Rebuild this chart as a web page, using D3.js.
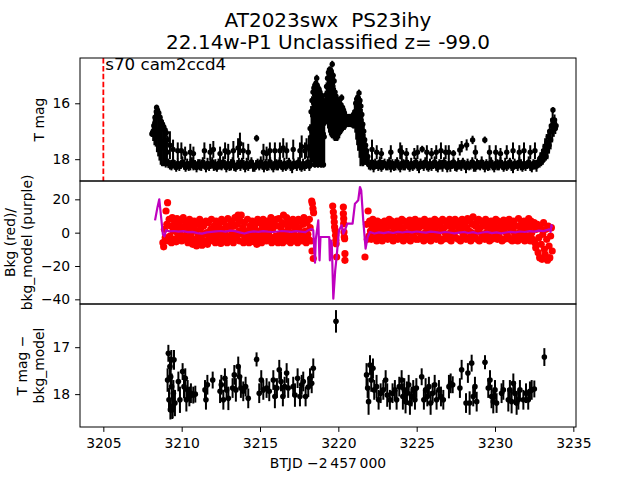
<!DOCTYPE html>
<html><head><meta charset="utf-8">
<script src="https://cdn.jsdelivr.net/npm/d3@7"></script>
<style>body{margin:0;background:#fff}svg{display:block}text{font-family:"DejaVu Sans",sans-serif}</style>
</head><body><svg id="c" width="640" height="480"></svg>
<script>
// ---------------- DATA ----------------
const titleLines = ["AT2023swx  PS23ihy", "22.14w-P1 Unclassified z= -99.0"];
const annot = "s70 cam2ccd4";
const markerT = 3205;
const xTicks = [3205, 3210, 3215, 3220, 3225, 3230, 3235];
const topTicks = [16, 18];
const midTicks = [20, 0, -20, -40];
const botTicks = [17, 18];
const xDomain = [3203.51, 3235.17];
const topDomain = [18.78, 14.38];
const midDomain = [-42.8, 31];
const botDomain = [18.70, 16.08];

// top panel: [BTJD, T mag, err]
const topBlob = [[3208.10,17.10,.10],[3208.14,17.05,.15],[3208.18,17.00,.35],[3208.22,16.80,.30],[3208.26,17.00,.50],[3208.30,16.50,.20],[3208.34,16.95,.60],[3208.38,16.30,.15],[3208.40,16.15,.10],[3208.42,17.00,.75],[3208.46,16.25,.12],[3208.50,17.10,.80],[3208.54,16.35,.15],[3208.58,17.20,.85],[3208.62,16.50,.15],[3208.66,17.35,.85],[3208.70,16.65,.15],[3208.74,17.45,.80],[3208.78,16.75,.15],[3208.82,17.50,.75],[3208.86,16.85,.15],[3208.90,17.60,.65],[3208.94,16.95,.15],[3208.98,17.70,.60],[3209.02,17.05,.15],[3209.06,17.75,.50],[3209.10,17.30,.15]];
const topBandL = [[3209.15,18.15,.17],[3209.25,18.2,.17],[3209.35,18.25,.15],[3209.45,18.1,.2],[3209.55,18.2,.17],[3209.65,18.3,.15],[3209.75,18.15,.17],[3209.85,18.25,.17],[3209.95,18.2,.15],[3210.05,18.1,.2],
[3210.15,18.2,.17],[3210.25,18.3,.15],[3210.35,18.15,.17],[3210.45,18.25,.17],[3210.55,18.2,.2],[3210.65,18.1,.17],[3210.75,18.25,.15],[3210.85,18.2,.17],[3210.95,18.3,.17],[3211.05,18.15,.15],
[3211.15,18.2,.2],[3211.25,18.25,.17],[3211.35,18.1,.17],[3211.45,18.2,.15],[3211.55,18.3,.17],[3211.65,18.15,.2],[3211.75,18.25,.17],[3211.85,18.2,.15],[3211.95,18.1,.17],[3212.05,18.25,.17],
[3212.15,18.2,.2],[3212.25,18.3,.15],[3212.35,18.15,.17],[3212.45,18.2,.17],[3212.55,18.25,.15],[3212.65,18.1,.2],[3212.75,18.2,.17],[3212.85,18.3,.17],[3212.95,18.15,.15],[3213.05,18.25,.17],
[3213.15,18.2,.2],[3213.25,18.1,.17],[3213.35,18.25,.17],[3213.45,18.3,.15],[3213.55,18.2,.17],[3213.65,18.15,.2],[3213.75,18.25,.17],[3213.85,18.1,.15],[3213.95,18.2,.17],[3214.05,18.3,.17],
[3214.15,18.15,.2],[3214.25,18.25,.17],[3214.35,18.2,.15],[3214.45,18.1,.17],[3214.55,18.25,.2],[3214.65,18.3,.15],[3214.75,18.2,.17],[3214.85,18.15,.17],[3214.95,18.25,.15],[3215.05,18.1,.2],
[3215.15,18.2,.17],[3215.25,18.3,.17],[3215.35,18.15,.15],[3215.45,18.25,.17],[3215.55,18.2,.2],[3215.65,18.1,.17],[3215.75,18.25,.15],[3215.85,18.3,.17],[3215.95,18.15,.17],[3216.05,18.2,.2],
[3216.15,18.25,.15],[3216.25,18.1,.17],[3216.35,18.2,.17],[3216.45,18.3,.15],[3216.55,18.15,.2],[3216.65,18.25,.17],[3216.75,18.2,.17],[3216.85,18.1,.15],[3216.95,18.25,.17],[3217.05,18.3,.2],
[3217.15,18.15,.17],[3217.25,18.2,.15],[3217.35,18.25,.17],[3217.45,18.1,.17],[3217.55,18.2,.2],[3217.65,18.3,.15],[3217.75,18.15,.17],[3217.85,18.25,.17],[3217.95,18.2,.15],[3218.05,18.1,.2],
[3218.15,18.25,.17]];
const topSpikesL = [[3209.25,17.5,.5],[3209.45,17.65,.35],[3209.75,17.7,.3],[3209.98,17.7,.3],[3210.22,17.8,.25],[3210.55,17.75,.3],[3210.75,17.8,.25],[3211.45,17.7,.3],[3211.82,17.75,.3],[3212.02,17.65,.3],[3212.45,17.8,.25],[3212.77,17.7,.3],[3212.97,17.75,.3],[3213.30,17.7,.35],[3213.60,17.6,.35],[3213.72,17.45,.4],[3213.93,17.7,.3],[3214.25,17.75,.3],[3214.78,17.25,.12],[3215.22,17.75,.3],[3215.42,17.8,.25],[3215.63,17.7,.3],[3215.95,17.7,.3],[3216.27,17.7,.3],[3216.48,17.6,.35],[3216.70,17.7,.3],[3217.12,17.65,.35],[3217.55,17.7,.3],[3217.66,17.55,.4],[3217.87,17.7,.3],[3217.97,17.6,.35],[3218.12,17.55,.4]];
const topActive = [[3218.20,16.90,.15],[3218.21,17.60,.60],[3218.23,18.20,.10],[3218.26,16.30,.20],[3218.29,17.20,.95],[3218.32,15.90,.15],[3218.35,17.00,1.10],[3218.38,15.60,.15],[3218.41,16.90,1.25],[3218.44,15.45,.15],[3218.47,16.80,1.40],[3218.50,15.35,.15],[3218.53,16.80,1.40],[3218.56,15.30,.15],[3218.59,16.80,1.40],[3218.62,15.10,.12],[3218.65,15.35,.15],[3218.68,16.85,1.40],[3218.71,15.45,.15],[3218.74,16.90,1.35],[3218.77,15.50,.15],[3218.80,16.90,1.30],[3218.83,15.60,.15],[3218.86,17.00,1.25],[3218.89,15.70,.15],[3218.92,17.00,1.20],[3218.95,15.80,.15],[3218.98,17.10,1.15],[3219.01,15.90,.15],[3219.04,17.10,1.10],[3219.07,16.10,.20],[3219.10,17.20,1.00],[3218.50,18.20,.10],[3218.70,18.20,.10],[3218.90,18.20,.10],[3219.05,18.20,.10],
[3219.13,16.00,.15],[3219.16,16.30,.50],[3219.19,15.70,.15],[3219.22,16.20,.55],[3219.25,15.40,.15],[3219.28,16.10,.65],[3219.31,15.10,.15],[3219.34,16.00,.90],[3219.37,14.90,.15],[3219.40,16.00,1.05],[3219.43,14.80,.12],[3219.46,16.00,1.15],[3219.49,14.80,.12],[3219.52,16.05,1.15],[3219.55,14.85,.12],[3219.58,16.05,1.20],[3219.61,14.60,.12],[3219.64,16.10,1.15],[3219.67,15.00,.12],[3219.70,16.20,1.10],[3219.73,15.20,.15],[3219.76,16.35,1.00],[3219.79,15.60,.15],[3219.82,16.50,.85],[3219.85,15.75,.15],[3219.88,16.55,.80],[3219.91,15.85,.15],[3219.94,16.60,.75],[3219.97,15.95,.15],[3220.00,16.60,.70],[3220.03,16.00,.15],[3220.06,16.60,.65],[3220.09,16.00,.15],[3220.12,16.60,.55],[3220.15,16.05,.15],[3220.18,16.60,.50],[3220.21,15.80,.12],[3220.24,16.55,.50],[3220.27,16.15,.15],[3220.30,16.60,.40],[3220.33,16.25,.15],[3220.36,16.60,.35],[3220.39,16.35,.15],[3220.42,16.65,.30],[3220.45,16.45,.12],[3220.48,16.65,.25],
[3220.51,16.50,.10],[3220.54,16.65,.20],[3220.58,16.50,.12],[3220.62,16.65,.20],[3220.66,16.50,.12],[3220.70,16.65,.20],[3220.74,16.50,.12],[3220.78,16.65,.20],[3220.82,16.50,.12],[3220.86,16.65,.22],[3220.90,16.45,.12],[3220.94,16.65,.25],[3220.98,16.40,.15],[3221.02,16.60,.30],
[3221.05,16.30,.25],[3221.08,16.60,.45],[3221.11,16.00,.15],[3221.14,16.60,.70],[3221.17,15.85,.15],[3221.20,16.65,.85],[3221.23,15.80,.15],[3221.26,16.75,.95],[3221.29,15.85,.15],[3221.32,15.63,.12],[3221.35,16.90,1.05],[3221.38,15.90,.15],[3221.41,17.10,1.15],[3221.44,16.10,.20],[3221.47,17.20,1.00],[3221.50,16.40,.20],[3221.53,17.35,.90],[3221.56,16.75,.20],[3221.59,17.50,.75],[3221.62,17.00,.20],[3221.65,17.60,.60],[3221.68,17.30,.20],[3221.71,17.75,.45],[3221.74,17.50,.20],[3221.77,17.85,.35],[3221.80,17.70,.20],[3221.84,18.00,.25],[3221.88,17.90,.20]];
const topBandR = [[3221.95,18.2,.17],[3222.05,18.25,.15],[3222.15,18.1,.2],[3222.25,18.3,.17],[3222.35,18.15,.17],[3222.45,18.2,.15],[3222.55,18.25,.17],[3222.65,18.1,.2],[3222.75,18.3,.15],[3222.85,18.2,.17],
[3222.95,18.15,.17],[3223.05,18.25,.15],[3223.15,18.2,.2],[3223.25,18.1,.17],[3223.35,18.3,.17],[3223.45,18.15,.15],[3223.55,18.25,.17],[3223.65,18.2,.2],[3223.75,18.1,.17],[3223.85,18.25,.15],
[3223.95,18.3,.17],[3224.05,18.15,.17],[3224.15,18.2,.2],[3224.25,18.25,.15],[3224.35,18.1,.17],[3224.45,18.2,.17],[3224.55,18.3,.15],[3224.65,18.15,.2],[3224.75,18.25,.17],[3224.85,18.2,.17],
[3224.95,18.1,.15],[3225.05,18.25,.17],[3225.15,18.3,.2],[3225.25,18.15,.17],[3225.35,18.2,.15],[3225.45,18.25,.17],[3225.55,18.1,.17],[3225.65,18.2,.2],[3225.75,18.3,.15],[3225.85,18.15,.17],
[3225.95,18.25,.17],[3226.05,18.2,.15],[3226.15,18.1,.2],[3226.25,18.25,.17],[3226.35,18.3,.17],[3226.45,18.15,.15],[3226.55,18.2,.17],[3226.65,18.25,.2],[3226.75,18.1,.17],[3226.85,18.2,.15],
[3226.95,18.3,.17],[3227.05,18.15,.17],[3227.15,18.25,.2],[3227.25,18.2,.15],[3227.35,18.1,.17],[3227.45,18.25,.17],[3227.55,18.3,.15],[3227.65,18.15,.2],[3227.75,18.2,.17],[3227.85,18.25,.17],
[3227.95,18.1,.15],[3228.05,18.2,.17],[3228.15,18.3,.2],[3228.25,18.15,.17],[3228.35,18.25,.15],[3228.45,18.2,.17],[3228.55,18.1,.17],[3228.65,18.25,.2],[3228.75,18.3,.15],[3228.85,18.15,.17],
[3228.95,18.2,.17],[3229.05,18.25,.15],[3229.15,18.1,.2],[3229.25,18.2,.17],[3229.35,18.3,.17],[3229.45,18.15,.15],[3229.55,18.25,.17],[3229.65,18.2,.2],[3229.75,18.1,.17],[3229.85,18.25,.15],
[3229.95,18.3,.17],[3230.05,18.15,.17],[3230.15,18.2,.2],[3230.25,18.25,.15],[3230.35,18.1,.17],[3230.45,18.2,.17],[3230.55,18.3,.15],[3230.65,18.15,.2],[3230.75,18.25,.17],[3230.85,18.2,.17],
[3230.95,18.1,.15],[3231.05,18.25,.17],[3231.15,18.3,.2],[3231.25,18.15,.17],[3231.35,18.2,.15],[3231.45,18.25,.17],[3231.55,18.1,.17],[3231.65,18.2,.2],[3231.75,18.3,.15],[3231.85,18.15,.17],
[3231.95,18.25,.17],[3232.05,18.2,.15],[3232.15,18.1,.2],[3232.25,18.25,.17],[3232.35,18.3,.17],[3232.45,18.15,.15],[3232.55,18.2,.17],[3232.65,18.25,.2],[3232.75,18.1,.17]];
const topSpikesR = [[3222.15,17.65,.35],[3222.45,17.75,.25],[3222.75,17.8,.2],[3223.35,17.75,.25],[3223.95,17.7,.3],[3224.05,17.75,.25],[3224.35,17.8,.2],[3224.85,17.8,.2],[3225.05,17.75,.25],[3225.35,17.64,.12],[3225.65,17.75,.25],[3225.95,17.8,.2],[3226.25,17.75,.25],[3226.55,17.7,.3],[3226.85,17.75,.25],[3227.05,17.75,.25],[3227.35,17.79,.12],[3227.75,17.67,.2],[3227.87,17.55,.2],[3228.19,17.49,.2],[3228.57,17.31,.15],[3228.75,17.75,.25],[3229.35,17.31,.12],[3229.65,17.75,.25],[3230.05,17.75,.25],[3230.35,17.8,.2],[3230.75,17.75,.25],[3231.15,17.7,.3],[3231.55,17.75,.25],[3231.85,17.7,.3],[3232.25,17.75,.25],[3232.55,17.7,.3]];
const topRamp = [[3232.85,18.15,.15],[3232.90,17.95,.2],[3232.95,18.1,.15],[3233.00,17.85,.2],[3233.05,18.05,.15],[3233.10,17.7,.25],[3233.15,17.95,.15],[3233.20,17.55,.3],[3233.25,17.9,.15],[3233.30,17.4,.3],[3233.35,17.7,.3],[3233.40,17.2,.25],[3233.45,17.5,.3],[3233.50,17.0,.25],[3233.55,17.3,.35],[3233.60,16.8,.25],[3233.65,17.0,.4],[3233.68,16.6,.3],[3233.70,16.24,.1],[3233.75,16.85,.35],[3233.80,16.6,.2],[3233.85,16.9,.2],[3233.90,16.8,.15]];

// middle panel: background samples [BTJD, bkg, bkg]
const bkgL = [[3208.8,-6,-8.5],[3208.9,2,-3],[3209.0,13,5],[3209.1,18,-5],[3209.2,8,-2],[3209.3,4,-6],[3209.4,9,1],[3209.5,-4,6],[3209.6,3,-5.5],[3209.7,8.5,-1],[3209.8,-3,5],[3209.9,1,7.5],[3210.0,-5,3],[3210.1,9,-2],[3210.2,-4,4.5],[3210.3,6,0],[3210.4,-6,2],[3210.5,8,-3],[3210.6,-1,5],[3210.7,-7,3],[3210.8,7,-4],[3210.9,1,-8],[3211.0,5,-2],[3211.1,-6,8],[3211.2,2,-4],[3211.3,-7.5,6],[3211.4,4,-1],[3211.5,-5,7],[3211.6,0,-7],[3211.7,6,-3],[3211.8,-5,2],[3211.9,8,-1],[3212.0,-4,4],[3212.1,1,-6],[3212.2,7,-2],[3212.3,-5,3],[3212.4,5,-1],[3212.5,-6.5,8],[3212.6,2,-3],[3212.7,6.5,-5],[3212.8,-1,4],[3212.9,-6,8.5],[3213.0,3,-2],[3213.1,-4,6],[3213.2,7,0],[3213.3,-6,4],[3213.4,9,-2],[3213.5,-3,5],[3213.6,10.5,1],[3213.7,-5,7],[3213.8,10.5,-1],[3213.9,3,-6],[3214.0,6,-3],[3214.1,-5,1],[3214.2,8,-2],[3214.3,-6,4],[3214.4,2,-4],[3214.5,7,0],[3214.6,-5.5,3],[3214.7,5,-2],[3214.8,-7,8],[3214.9,1,-4],[3215.0,6,-1],[3215.1,-6,3],[3215.2,8,-3],[3215.3,0,5],[3215.4,-5,2],[3215.5,7,-1],[3215.6,-4,4],[3215.7,9,-6],[3215.8,2,-3],[3215.9,6,-5],[3216.0,-2,8],[3216.1,4,-6],[3216.2,8.5,-1],[3216.3,-4,3],[3216.4,6,-6],[3216.5,10.5,0],[3216.6,-3,5],[3216.7,9,-5],[3216.8,2,-2],[3216.9,7,-6],[3217.0,-3,4],[3217.1,8,0],[3217.2,-5,3],[3217.3,6,-2],[3217.4,-6,8],[3217.5,3,-4],[3217.6,7,0],[3217.7,-5,5],[3217.8,9,-3],[3217.9,1,-6],[3218.0,6,-1],[3218.1,-4,8],[3218.2,3,-5]];
const bkgR = [[3221.8,5,-4],[3221.9,13,-2],[3222.0,7,1],[3222.1,-4,4],[3222.2,8,-1],[3222.3,-3,5],[3222.4,2,-5],[3222.5,7,0],[3222.6,-4,3],[3222.7,6,-2],[3222.8,-5,1],[3222.9,4,7],[3223.0,-2,2],[3223.1,6,-4],[3223.2,0,8],[3223.3,-3,4],[3223.4,7,-1],[3223.5,-5,2],[3223.6,5,-3],[3223.7,1,7],[3223.8,-4,3],[3223.9,6,-2],[3224.0,-1,8],[3224.1,3,-5],[3224.2,7,0],[3224.3,-3,4],[3224.4,5,-4],[3224.5,0,7.5],[3224.6,-5,2],[3224.7,6,-1],[3224.8,-2,4],[3224.9,8,-4],[3225.0,1,5],[3225.1,-4,3],[3225.2,7,-1],[3225.3,-3,5],[3225.4,4,-5],[3225.5,8,0],[3225.6,-2,3],[3225.7,6,-4],[3225.8,0,7],[3225.9,-5,2],[3226.0,5,-2],[3226.1,-1,8],[3226.2,3,-4],[3226.3,7,0],[3226.4,-3,4],[3226.5,6,-5],[3226.6,1,8],[3226.7,-4,3],[3226.8,7,-1],[3226.9,-2,5],[3227.0,4,-4],[3227.1,8,0],[3227.2,-5,3],[3227.3,6,-2],[3227.4,0,8],[3227.5,-3,4],[3227.6,7,-4],[3227.7,2,5],[3227.8,-5,1],[3227.9,8,-2],[3228.0,-1,4],[3228.1,6,-4],[3228.2,3,8.5],[3228.3,-3,1],[3228.4,7,-5],[3228.5,0,5],[3228.6,9.5,-3],[3228.7,-2,4],[3228.8,6,-4],[3228.9,1,8],[3229.0,-5,3],[3229.1,7,-1],[3229.2,-2,5],[3229.3,4,-4],[3229.4,8,0],[3229.5,-3,3],[3229.6,6,-5],[3229.7,0,7],[3229.8,-4,2],[3229.9,5,-2],[3230.0,-1,8],[3230.1,3,-4],[3230.2,7,0],[3230.3,-3,4],[3230.4,5,-5],[3230.5,1,7.5],[3230.6,-4,3],[3230.7,6,-1],[3230.8,-2,4],[3230.9,8,-4],[3231.0,2,5],[3231.1,-5,1],[3231.2,7,-2],[3231.3,-1,4],[3231.4,4,-5],[3231.5,8.5,0],[3231.6,-3,3],[3231.7,6,-4],[3231.8,0,7],[3231.9,-5,2],[3232.0,5,-2],[3232.1,-2,8.5],[3232.2,3,-5],[3232.3,7,0],[3232.4,-4,4],[3232.5,6,-6],[3232.6,-9,2],[3232.7,5,-12],[3232.8,-3,-15],[3232.9,3,-7],[3233.0,-16,-1],[3233.1,6,-10],[3233.2,-13,2],[3233.3,-4,-16.5],[3233.4,4,-8],[3233.5,-15,-2],[3233.6,3,-11]];
const bkgOut = [[3218.30,19],[3218.34,17.5],[3218.38,14.5],[3218.42,12],[3218.40,-15.5],[3218.32,-11],[3219.64,16],[3219.68,12.4],[3219.72,9.4],[3219.74,6.4],[3219.76,3.4],[3219.80,1.4],[3219.82,-1.6],[3219.84,-4.6],[3219.86,-6.6],[3219.89,-14.6],[3220.32,15.4],[3220.32,11.4],[3220.34,8.4],[3220.34,5.4],[3220.36,0.4],[3220.38,-2.6],[3220.40,-3.6],[3220.42,-12.6],[3220.42,-16.6],[3221.70,-14.6]];
// background model [BTJD, value]
const bkgModel = [[3208.30,7.4],[3208.45,15],[3208.57,20],[3208.68,10],[3208.80,-1],[3208.90,-2.2],[3209.00,1.5],[3209.2,0.8],[3209.5,1.0],[3209.8,0.6],[3210.1,0.9],[3210.4,0.3],[3210.7,0.5],[3211.0,-0.3],[3211.3,-0.6],[3211.6,0.2],[3211.9,0.5],[3212.2,0.8],[3212.5,1.0],[3212.8,0.6],[3213.1,1.2],[3213.4,0.9],[3213.7,0.2],[3214.0,-0.5],[3214.3,0.3],[3214.6,0.8],[3214.9,0.5],[3215.2,0.9],[3215.5,0.6],[3215.8,0.4],[3216.1,0.7],[3216.4,1.0],[3216.7,0.8],[3217.0,0.5],[3217.3,0.9],[3217.6,0.6],[3217.9,0.3],[3218.1,1.5],[3218.3,2.4],[3218.4,1.4],[3218.46,-10],[3218.51,-18],[3218.56,-4],[3218.72,7.4],[3218.80,-16.6],[3218.86,-2.6],[3219.42,-2.6],[3219.46,-16.6],[3219.52,-4.6],[3219.58,-6],[3219.68,-39.6],[3219.80,-22.6],[3219.89,-14.6],[3220.04,1.4],[3220.10,2.4],[3220.21,4.4],[3220.32,-0.6],[3220.42,1.4],[3220.57,5.4],[3220.74,5.4],[3220.91,5.4],[3221.06,17.4],[3221.17,18.4],[3221.27,19.4],[3221.38,27.4],[3221.46,25.4],[3221.59,7.4],[3221.74,-9.6],[3221.87,-2.6],[3222.02,0.4],[3222.3,-0.5],[3222.6,0.2],[3222.9,-0.3],[3223.2,0.3],[3223.5,-0.2],[3223.8,0.5],[3224.1,0.1],[3224.4,0.6],[3224.7,0.2],[3225.0,0.7],[3225.3,0.3],[3225.6,0.0],[3225.9,0.6],[3226.2,0.3],[3226.5,-0.1],[3226.8,0.4],[3227.1,0.1],[3227.4,-0.4],[3227.7,0.0],[3228.0,0.4],[3228.3,-0.2],[3228.6,0.3],[3228.9,-0.5],[3229.2,0.1],[3229.5,0.5],[3229.8,-0.3],[3230.1,0.2],[3230.4,-0.4],[3230.7,0.1],[3231.0,0.5],[3231.3,0.2],[3231.6,0.7],[3231.9,0.4],[3232.2,0.9],[3232.5,0.6],[3232.8,1.2],[3233.1,0.9],[3233.3,1.5],[3233.45,2.0],[3233.55,0.5],[3233.60,4.5],[3233.65,3.0]];

// bottom panel: [BTJD, T mag - bkg_model, err]
const diffL = [[3209.10,17.70,.25],[3209.15,17.13,.18],[3209.19,18.12,.25],[3209.25,17.41,.21],[3209.28,18.33,.21],[3209.30,17.63,.25],[3209.34,17.27,.21],[3209.36,17.84,.28],[3209.40,18.33,.20],[3209.42,18.26,.25],[3209.47,17.98,.28],[3209.51,17.27,.21],[3209.57,18.19,.28],[3209.79,17.73,.21],[3209.89,18.12,.28],[3210.06,17.52,.18],[3210.15,17.84,.25],[3210.23,17.66,.21],[3210.30,18.12,.25],[3210.38,17.91,.21],[3210.49,18.05,.21],[3210.59,17.98,.21],[3210.74,18.02,.18],[3210.87,18.00,.18],[3211.49,17.91,.21],[3211.55,18.12,.21],[3211.64,17.80,.21],[3211.98,17.70,.18],[3212.45,17.94,.25],[3212.53,17.80,.21],[3212.66,18.12,.21],[3212.76,17.66,.21],[3212.87,17.91,.21],[3212.98,18.09,.25],[3213.25,17.87,.21],[3213.36,17.59,.21],[3213.46,17.91,.25],[3213.61,17.41,.21],[3213.70,17.63,.21],[3213.78,17.87,.21],[3213.93,17.94,.21],[3214.08,17.84,.21],[3214.25,18.09,.21],[3214.78,17.26,.15],[3214.95,17.98,.21],[3215.08,17.70,.21],[3215.21,17.91,.21],[3215.42,17.87,.21],[3215.59,17.94,.21],[3215.85,17.70,.21],[3215.95,18.05,.25],[3216.08,17.87,.21],[3216.23,17.48,.21],[3216.34,17.73,.21],[3216.46,18.05,.21],[3216.57,17.84,.21],[3216.70,17.55,.21],[3216.80,17.87,.21],[3217.12,17.84,.21],[3217.23,18.02,.25],[3217.40,17.66,.21],[3217.55,18.05,.21],[3217.66,17.80,.21],[3217.76,17.73,.21],[3217.91,18.05,.21],[3218.08,17.85,.21],[3218.19,17.66,.21],[3218.30,17.77,.21],[3218.40,17.45,.21]];
const diffR = [[3219.85,16.45,.24],[3221.80,17.59,.25],[3221.87,17.87,.21],[3221.93,18.16,.28],[3222.02,17.38,.21],[3222.10,17.70,.25],[3222.21,17.45,.21],[3222.29,17.91,.21],[3222.44,17.84,.25],[3222.57,18.12,.21],[3222.70,17.98,.21],[3222.87,17.91,.21],[3223.02,17.70,.21],[3223.12,18.02,.25],[3223.29,18.12,.21],[3223.46,17.98,.21],[3223.61,17.91,.21],[3223.72,18.12,.21],[3223.89,17.84,.21],[3224.04,17.70,.21],[3224.12,18.05,.28],[3224.21,17.91,.25],[3224.29,18.16,.25],[3224.38,17.98,.25],[3224.49,17.80,.21],[3224.57,18.19,.25],[3224.68,18.05,.21],[3224.78,17.91,.21],[3224.89,18.12,.21],[3224.98,17.87,.21],[3225.32,17.63,.18],[3225.46,18.12,.21],[3225.57,17.91,.25],[3225.68,18.05,.21],[3225.78,17.84,.21],[3225.89,18.19,.25],[3226.02,17.98,.21],[3226.15,17.80,.21],[3226.27,18.12,.21],[3226.42,17.91,.21],[3226.55,18.05,.21],[3226.70,18.12,.21],[3227.06,17.84,.25],[3227.17,17.77,.21],[3227.30,17.80,.18],[3227.76,17.87,.21],[3227.87,17.48,.21],[3228.15,18.19,.21],[3228.27,17.55,.21],[3228.38,18.19,.25],[3228.51,17.34,.18],[3228.61,18.05,.21],[3228.72,17.84,.21],[3228.83,18.16,.21],[3229.36,17.32,.15],[3229.57,17.87,.21],[3229.68,17.70,.21],[3229.78,18.05,.25],[3229.89,18.16,.25],[3230.00,17.91,.21],[3230.10,18.19,.21],[3230.42,17.98,.21],[3230.53,17.91,.21],[3230.85,18.12,.25],[3230.95,17.91,.21],[3231.06,18.16,.25],[3231.17,17.77,.21],[3231.27,17.98,.25],[3231.38,18.19,.25],[3231.49,18.12,.21],[3231.59,17.91,.21],[3231.81,18.12,.21],[3231.98,17.98,.21],[3232.12,18.12,.21],[3232.23,17.94,.21],[3232.34,17.91,.21],[3232.51,17.89,.18],[3233.15,17.21,.19]];

// ---------------- DRAWING ----------------
const svg = d3.select('#c');
const L = 80, R = 576;
const pTop = [58, 181, 304], pBot = [181, 304, 427];
const FS = 13.9;
const x = d3.scaleLinear().domain(xDomain).range([L, R]);
const yT = d3.scaleLinear().domain(topDomain).range([pBot[0], pTop[0]]);
const yM = d3.scaleLinear().domain(midDomain).range([pBot[1], pTop[1]]);
const yB = d3.scaleLinear().domain(botDomain).range([pBot[2], pTop[2]]);
const fmt = d => (d < 0 ? '\u2212' : '') + Math.abs(d);

const defs = svg.append('defs');
[0,1,2].forEach(i => defs.append('clipPath').attr('id','cp'+i).append('rect')
  .attr('x', L).attr('y', pTop[i]).attr('width', R-L).attr('height', pBot[i]-pTop[i]));

function errPanel(i, y, rows, r, sw) {
  const g = svg.append('g').attr('clip-path', `url(#cp${i})`);
  g.selectAll('line').data(rows).join('line')
    .attr('x1', d => x(d[0])).attr('x2', d => x(d[0]))
    .attr('y1', d => y(d[1]-d[2])).attr('y2', d => y(d[1]+d[2]))
    .attr('stroke', '#000').attr('stroke-width', sw);
  g.selectAll('circle').data(rows).join('circle')
    .attr('cx', d => x(d[0])).attr('cy', d => y(d[1])).attr('r', r).attr('fill', '#000');
}

// top
const topRows = [].concat(topBlob, topBandL, topSpikesL, topActive, topBandR, topSpikesR, topRamp);
errPanel(0, yT, topRows, 2.7, 2);
svg.append('line').attr('x1', x(markerT)).attr('x2', x(markerT))
  .attr('y1', pTop[0]).attr('y2', pBot[0])
  .attr('stroke', '#ff0000').attr('stroke-width', 1.8).attr('stroke-dasharray', '5.5,2.4');
svg.append('text').attr('x', x(markerT)+2).attr('y', 70).attr('font-size', 16.67).text(annot);

// middle
const bkgPts = [];
bkgL.concat(bkgR).forEach(r => { bkgPts.push([r[0], r[1]]); bkgPts.push([r[0]+0.05, r[2]]); });
bkgOut.forEach(r => bkgPts.push(r));
const gm = svg.append('g').attr('clip-path', 'url(#cp1)');
gm.selectAll('circle').data(bkgPts).join('circle')
  .attr('cx', d => x(d[0])).attr('cy', d => yM(d[1])).attr('r', 3.6).attr('fill', '#ff0000');
gm.append('path').datum(bkgModel)
  .attr('d', d3.line().x(d => x(d[0])).y(d => yM(d[1])))
  .attr('fill', 'none').attr('stroke', '#bf00bf').attr('stroke-width', 2.2).attr('stroke-linejoin', 'round');

// bottom
errPanel(2, yB, diffL.concat(diffR), 2.8, 2);

// frames
[0,1,2].forEach(i => svg.append('rect').attr('x', L).attr('y', pTop[i])
  .attr('width', R-L).attr('height', pBot[i]-pTop[i])
  .attr('fill', 'none').attr('stroke', '#000').attr('stroke-width', 1));

// axes
function yAxis(y, ticks) {
  const g = svg.append('g').attr('transform', `translate(${L},0)`)
    .call(d3.axisLeft(y).tickValues(ticks).tickSize(4.9).tickPadding(4.9).tickFormat(fmt));
  g.select('.domain').remove();
  g.selectAll('text').attr('font-size', FS).attr('font-family', '"DejaVu Sans",sans-serif').attr('fill','#000');
  g.selectAll('line').attr('stroke', '#000');
}
yAxis(yT, topTicks); yAxis(yM, midTicks); yAxis(yB, botTicks);
const gx = svg.append('g').attr('transform', `translate(0,${pBot[2]})`)
  .call(d3.axisBottom(x).tickValues(xTicks).tickSize(4.9).tickPadding(6.3).tickFormat(d => String(d)));
gx.select('.domain').remove();
gx.selectAll('text').attr('font-size', FS).attr('font-family', '"DejaVu Sans",sans-serif').attr('fill','#000');
gx.selectAll('line').attr('stroke', '#000');

// labels
svg.append('text').attr('x', 328).attr('y', 468).attr('text-anchor', 'middle').attr('font-size', FS)
  .text('BTJD \u22122\u2009457\u2009000');
function ylab(lines, xs, cy) {
  lines.forEach((t, k) => svg.append('text').attr('transform', `translate(${xs[k]},${cy}) rotate(-90)`)
    .attr('text-anchor', 'middle').attr('font-size', FS).text(t));
}
ylab(['T mag'], [43.7], (pTop[0]+pBot[0])/2);
ylab(['Bkg (red)/', 'bkg_model (purple)'], [15.4, 32.1], (pTop[1]+pBot[1])/2);
ylab(['T mag \u2212', 'bkg_model'], [27, 43.7], (pTop[2]+pBot[2])/2);

// title
titleLines.forEach((t, k) => svg.append('text').attr('x', 328).attr('y', k === 0 ? 27 : 49)
  .attr('text-anchor', 'middle').attr('font-size', 20).style('white-space', 'pre').text(t));
</script></body></html>
